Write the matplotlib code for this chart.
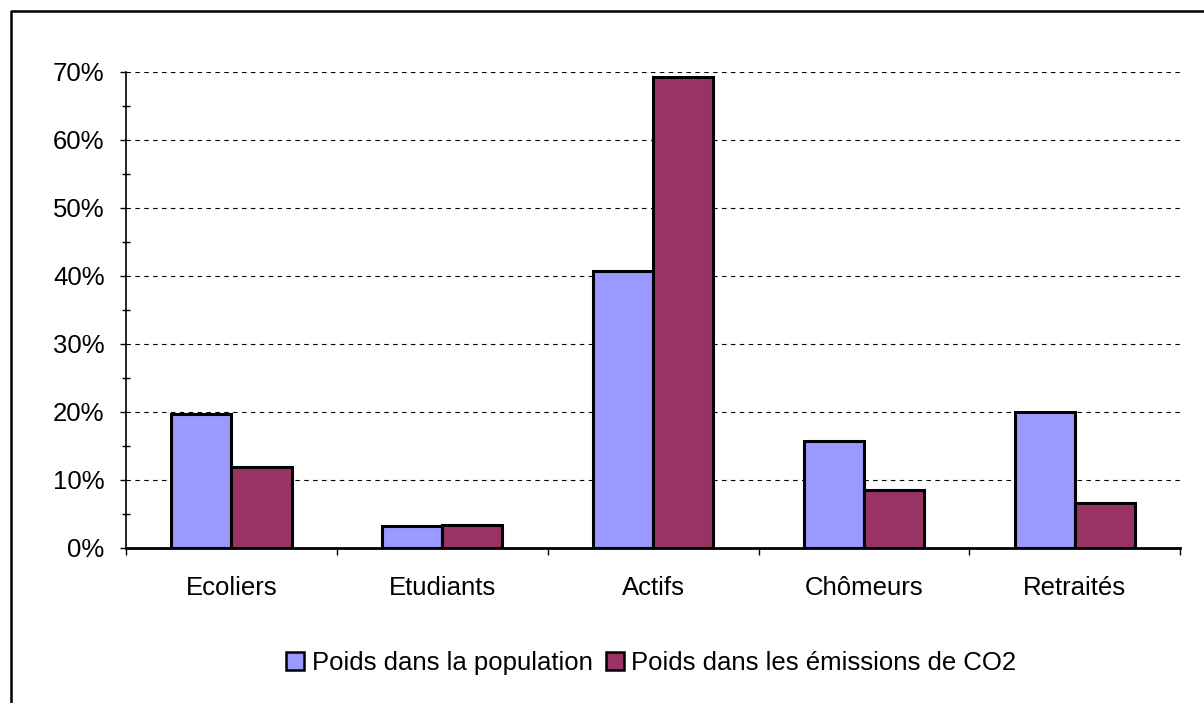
import numpy as np
import matplotlib.pyplot as plt
from matplotlib.lines import Line2D
from matplotlib.ticker import MultipleLocator, PercentFormatter

plt.rcParams['font.family'] = ['Liberation Sans', 'DejaVu Sans']

categories = ['Ecoliers', 'Etudiants', 'Actifs', 'Chômeurs', 'Retraités']
poids_population = [19.7, 3.2, 40.8, 15.7, 20.0]
poids_co2 = [11.9, 3.4, 69.3, 8.5, 6.6]
series_labels = ['Poids dans la population', 'Poids dans les émissions de CO2']

fig = plt.figure(figsize=(12.04, 7.03), dpi=100)
ax = fig.add_axes([0.1047, 0.2205, 0.8755, 0.6771])

x = np.arange(len(categories))
w = 0.285
ax.bar(x - w / 2, poids_population, w, color='#9999FF', edgecolor='black',
       linewidth=2.2, label=series_labels[0], zorder=3)
ax.bar(x + w / 2, poids_co2, w, color='#993366', edgecolor='black',
       linewidth=2.2, label=series_labels[1], zorder=3)

ax.set_xlim(-0.5, len(categories) - 0.5)
ax.set_ylim(0, 70)
ax.yaxis.set_major_locator(MultipleLocator(10))
ax.yaxis.set_minor_locator(MultipleLocator(5))
ax.yaxis.set_major_formatter(PercentFormatter(decimals=0))
ax.grid(axis='y', which='major', color='black', linestyle=(0, (4, 4)),
        linewidth=0.8, zorder=0)

# category boundaries as x ticks, labels in between
ax.set_xticks(np.arange(len(categories) + 1) - 0.5)
ax.set_xticklabels([])
ax.set_xticks(x, minor=True)
ax.set_xticklabels(categories, minor=True)
ax.tick_params(axis='x', which='major', direction='out', length=5, width=1)
ax.tick_params(axis='x', which='minor', length=0, pad=20, labelsize=18.5)
ax.tick_params(axis='y', which='major', direction='out', length=4.5, width=1,
               labelsize=18.5, pad=11)
ax.tick_params(axis='y', which='minor', direction='inout', length=6, width=1)

for side in ['top', 'right']:
    ax.spines[side].set_visible(False)
ax.spines['left'].set_linewidth(1.2)
ax.spines['bottom'].set_linewidth(2)

leg = fig.legend(loc='center', bbox_to_anchor=(0.541, 1 - 663 / 703), ncol=2,
                 frameon=False, fontsize=18.5, handlelength=0.7, handleheight=0.7,
                 handletextpad=0.3, columnspacing=0.5)
for h in leg.legend_handles:
    h.set_linewidth(1.8)

# outer chart frame
fx = 11 / 1204
fy = 1 - 11 / 703
fig.add_artist(Line2D([fx, fx, 1], [0, fy, fy], color='black', linewidth=1.8,
                      transform=fig.transFigure))

fig.savefig('out.png', dpi=100)
